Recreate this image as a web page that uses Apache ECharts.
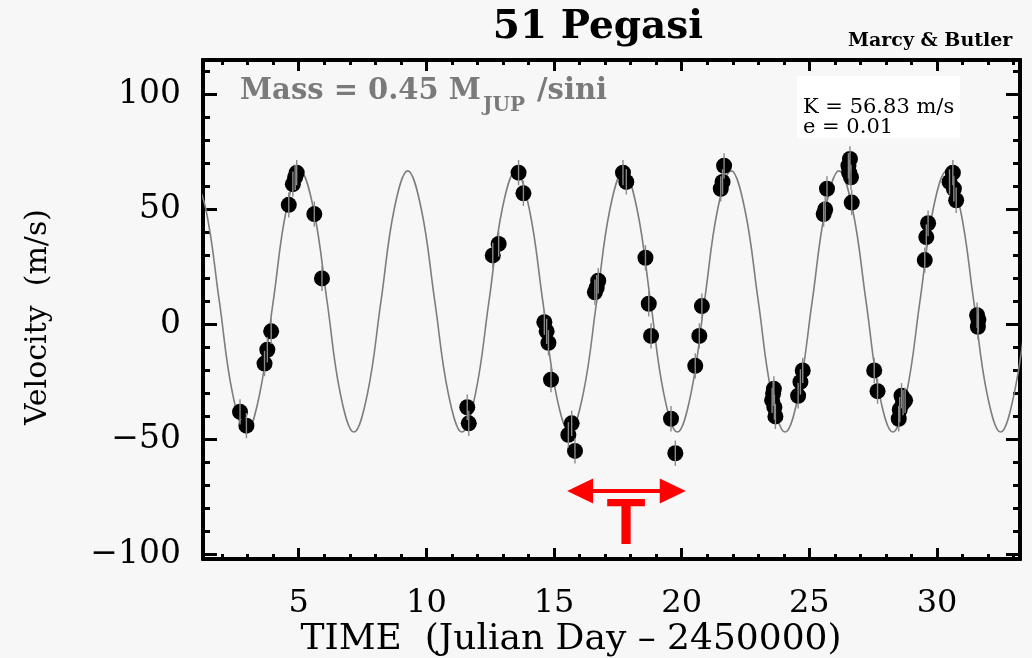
<!DOCTYPE html>
<html>
<head>
<meta charset="utf-8">
<script src="https://cdn.jsdelivr.net/npm/echarts@6/dist/echarts.min.js"></script>
<style>
  html, body { margin: 0; padding: 0; background: #f7f7f7; }
  #chart { width: 1032px; height: 658px; }
</style>
</head>
<body>
<div id="chart"></div>
<script>
/* ---------- data ---------- */
// observations: day (JD - 2450000) and radial velocity (m/s)
var obsDay = [
  2.70, 2.95, 3.66, 3.77, 3.92, 4.61, 4.77, 4.86, 4.92, 5.61, 5.91,
  11.60, 11.66, 12.60, 12.83, 13.61, 13.80, 14.62, 14.71, 14.78, 14.88,
  15.56, 15.69, 15.82, 16.60, 16.67, 16.73,
  17.70, 17.83, 18.58, 18.71, 18.80, 19.58, 19.75, 20.53, 20.69, 20.79,
  21.53, 21.60, 21.66,
  23.54, 23.58, 23.61, 23.63, 23.67, 24.56, 24.65, 24.74,
  25.56, 25.62, 25.69, 26.53, 26.56, 26.59, 26.63, 26.66,
  27.54, 27.67, 28.50, 28.54, 28.61, 28.67, 28.75,
  29.52, 29.58, 29.65, 30.49, 30.62, 30.66, 30.75, 31.57, 31.60, 31.62
];
var obsVel = [
  -38, -44, -17, -11, -3, 52, 61, 64, 66, 48, 20,
  -36, -43, 30, 35, 66, 57, 1, -3, -8, -24,
  -48, -43, -55, 14, 16, 19,
  66, 62, 29, 9, -5, -41, -56, -18, -5, 8,
  59, 62, 69,
  -33, -30, -28, -36, -40, -31, -25, -20,
  48, 50, 59, 69, 66, 72, 64, 53,
  -20, -29, -41, -37, -31, -34, -33,
  28, 38, 44, 62, 66, 59, 54, 4, -1, 2
];
var obsErr = 5.5;

// fitted orbit curve, every eighth of a cycle
var fitDay = [
  0.83, 1.36, 1.89, 2.41, 2.94, 3.47, 4.00, 4.52,
  5.05, 5.58, 6.11, 6.63, 7.16, 7.69, 8.22, 8.74,
  9.27, 9.80, 10.33, 10.86, 11.39, 11.92, 12.45, 12.97,
  13.50, 14.03, 14.56, 15.08, 15.61, 16.14, 16.67, 17.19,
  17.72, 18.25, 18.78, 19.30, 19.83, 20.36, 20.89, 21.41,
  21.94, 22.47, 23.00, 23.52, 24.05, 24.58, 25.11, 25.63,
  26.16, 26.69, 27.22, 27.74, 28.27, 28.80, 29.33, 29.85,
  30.38, 30.91, 31.44, 31.96, 32.49, 33.02, 33.55
];
var fitVel = [
  66.8, 50.2, 10, -30.2, -46.8, -30.2, 10, 50.2,
  66.8, 50.2, 10, -30.2, -46.8, -30.2, 10, 50.2,
  66.8, 50.2, 10, -30.2, -46.8, -30.2, 10, 50.2,
  66.8, 50.2, 10, -30.2, -46.8, -30.2, 10, 50.2,
  66.8, 50.2, 10, -30.2, -46.8, -30.2, 10, 50.2,
  66.8, 50.2, 10, -30.2, -46.8, -30.2, 10, 50.2,
  66.8, 50.2, 10, -30.2, -46.8, -30.2, 10, 50.2,
  66.8, 50.2, 10, -30.2, -46.8, -30.2, 10
];

// period arrow (T)
var periodFrom = [16.02, -72.4];
var periodTo = [19.65, -72.4];

// axes
var xRange = [1.25, 33.25];
var yRange = [-102, 115];
var xMajor = [5, 10, 15, 20, 25, 30];
var xMinor = [2, 3, 4, 6, 7, 8, 9, 11, 12, 13, 14, 16, 17, 18, 19,
              21, 22, 23, 24, 26, 27, 28, 29, 31, 32, 33];
var yMajor = [-100, -50, 0, 50, 100];
var yMinor = [-90, -80, -70, -60, -40, -30, -20, -10,
              10, 20, 30, 40, 60, 70, 80, 90, 110];

/* ---------- build ---------- */
var SERIF = '"DejaVu Serif", "Liberation Serif", serif';

var points = obsDay.map(function (d, i) { return [d, obsVel[i]]; });
var curve = fitDay.map(function (d, i) { return [d, fitVel[i]]; });

function xAxisDef(pos, ticks, len, labels) {
    return {
        type: 'value', position: pos, min: xRange[0], max: xRange[1],
        axisLine: { show: true, onZero: false, lineStyle: { color: '#000', width: 4 } },
        axisTick: { show: true, inside: true, length: len, customValues: ticks,
                    lineStyle: { color: '#000', width: 3 } },
        axisLabel: labels ? { show: true, customValues: ticks, color: '#000',
                              fontFamily: SERIF, fontSize: 32, margin: 29 }
                          : { show: false },
        splitLine: { show: false }
    };
}
function yAxisDef(pos, ticks, len, labels) {
    return {
        type: 'value', position: pos, min: yRange[0], max: yRange[1],
        axisLine: { show: true, onZero: false, lineStyle: { color: '#000', width: 4 } },
        axisTick: { show: true, inside: true, length: len, customValues: ticks,
                    lineStyle: { color: '#000', width: 3 } },
        axisLabel: labels ? {
            show: true, customValues: ticks, color: '#000', fontFamily: SERIF,
            fontSize: 33, margin: 22,
            formatter: function (v) { return v < 0 ? '\u2212' + (-v) : '' + v; }
        } : { show: false },
        splitLine: { show: false }
    };
}

var chart = echarts.init(document.getElementById('chart'), null, { renderer: 'canvas' });

chart.setOption({
    backgroundColor: '#f7f7f7',
    animation: false,
    grid: { left: 203, right: 12, top: 60, bottom: 99 },
    xAxis: [
        xAxisDef('bottom', xMajor, 11, true),
        xAxisDef('bottom', xMinor, 5, false),
        xAxisDef('top', xMajor, 11, false),
        xAxisDef('top', xMinor, 5, false)
    ],
    yAxis: [
        yAxisDef('left', yMajor, 14, true),
        yAxisDef('left', yMinor, 7, false),
        yAxisDef('right', yMajor, 14, false),
        yAxisDef('right', yMinor, 7, false)
    ],
    graphic: [
        { type: 'text', style: { text: '51 Pegasi', x: 598, y: 28,
          align: 'center', verticalAlign: 'middle', font: 'bold 39px ' + SERIF, fill: '#000' } },
        { type: 'text', style: { text: 'Marcy & Butler', x: 848, y: 41, verticalAlign: 'middle',
          font: 'bold 19px ' + SERIF, fill: '#000' } },
        { type: 'text', style: { text: 'Mass = 0.45 M', x: 240, y: 91, verticalAlign: 'middle',
          font: 'bold 29px ' + SERIF, fill: '#7a7a7a' } },
        { type: 'text', style: { text: 'JUP', x: 483, y: 106, verticalAlign: 'middle',
          font: 'bold 20px ' + SERIF, fill: '#7a7a7a' } },
        { type: 'text', style: { text: '/sini', x: 537, y: 91, verticalAlign: 'middle',
          font: 'bold 29px ' + SERIF, fill: '#7a7a7a' } },
        { type: 'rect', shape: { x: 797, y: 76, width: 163, height: 62 },
          style: { fill: '#ffffff' }, z: -1 },
        { type: 'text', style: { text: 'K = 56.83 m/s', x: 803, y: 108, verticalAlign: 'middle',
          font: '21px ' + SERIF, fill: '#000' } },
        { type: 'text', style: { text: 'e = 0.01', x: 803, y: 128, verticalAlign: 'middle',
          font: '21px ' + SERIF, fill: '#000' } },
        { type: 'text', style: { text: 'T', x: 626, y: 526, align: 'center', verticalAlign: 'middle',
          font: 'bold 64px "Liberation Sans", Arial, sans-serif', fill: '#ff0000' } },
        { type: 'text', rotation: Math.PI / 2, x: 38, y: 317,
          style: { text: 'Velocity  (m/s)', align: 'center', verticalAlign: 'middle',
          font: '30px ' + SERIF, fill: '#000' } },
        { type: 'text', style: { text: 'TIME  (Julian Day \u2013 2450000)', x: 571, y: 640,
          align: 'center', verticalAlign: 'middle', font: '36px ' + SERIF, fill: '#000' } }
    ],
    series: [
        {
            name: 'fit', type: 'line', data: curve, smooth: 0.4, showSymbol: false,
            clip: true, lineStyle: { color: '#7d7d7d', width: 1.6 }, z: 2, silent: true
        },
        {
            name: 'obs', type: 'scatter', data: points, symbol: 'circle', symbolSize: 16,
            itemStyle: { color: '#000', opacity: 1 }, z: 3, silent: true
        },
        {
            name: 'err', type: 'custom', data: points, z: 4, silent: true,
            renderItem: function (params, api) {
                var d = api.value(0), v = api.value(1);
                var a = api.coord([d, v + obsErr]);
                var b = api.coord([d, v - obsErr]);
                return { type: 'line', shape: { x1: a[0], y1: a[1], x2: b[0], y2: b[1] },
                         style: { stroke: '#8a8a8a', lineWidth: 1.4 } };
            }
        },
        {
            name: 'period', type: 'line', data: [], silent: true,
            markLine: {
                silent: true, symbol: ['triangle', 'triangle'], symbolSize: [25, 26],
                label: { show: false },
                lineStyle: { color: '#ff0000', width: 4, type: 'solid' },
                data: [[{ coord: periodFrom }, { coord: periodTo }]]
            }
        }
    ]
});
</script>
</body>
</html>
